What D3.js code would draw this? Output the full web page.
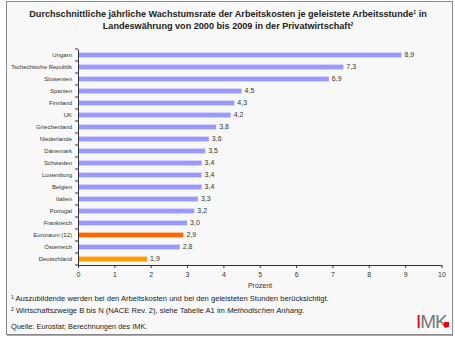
<!DOCTYPE html>
<html>
<head>
<meta charset="utf-8">
<script src="https://cdn.jsdelivr.net/npm/d3@7"></script>
<style>
  body { margin: 0; background: #fff; }
  text { font-family: "Liberation Sans", Arial, sans-serif; }
</style>
</head>
<body>
<div id="container"></div>
<script>
const countries = ["Ungarn", "Tschechische Republik", "Slowenien", "Spanien", "Finnland", "UK",
    "Griechenland", "Niederlande", "Dänemark", "Schweden", "Luxemburg", "Belgien", "Italien",
    "Portugal", "Frankreich", "Euroraum (12)", "Österreich", "Deutschland"];
const values = [8.9, 7.3, 6.9, 4.5, 4.3, 4.2, 3.8, 3.6, 3.5, 3.4, 3.4, 3.4, 3.3, 3.2, 3.0, 2.9, 2.8, 1.9];
const xTicks = [0, 1, 2, 3, 4, 5, 6, 7, 8, 9, 10];

const colorOf = (name) => {
    if (name === "Euroraum (12)") return "#ff6600";
    if (name === "Deutschland") return "#ff9900";
    return "#9999ff";
};

const svg = d3.select("#container")
    .append("svg")
    .attr("width", 455)
    .attr("height", 352);

// frame
svg.append("rect")
    .attr("x", 6.5).attr("y", 1.5)
    .attr("width", 446).attr("height", 333)
    .attr("fill", "#f8f8f8")
    .attr("stroke", "#888")
    .attr("stroke-width", 1);
svg.append("line")
    .attr("x1", 7).attr("x2", 453).attr("y1", 335.5).attr("y2", 335.5)
    .attr("stroke", "#aaa");

// title
const title = svg.append("text")
    .attr("text-anchor", "middle")
    .attr("font-size", "9.1px")
    .attr("font-weight", "bold")
    .attr("fill", "#222");
title.append("tspan").attr("x", 228).attr("y", 17)
    .text("Durchschnittliche jährliche Wachstumsrate der Arbeitskosten je geleistete Arbeitsstunde");
title.append("tspan").attr("font-size", "5px").attr("dy", -3).text("1");
title.append("tspan").attr("dy", 3).text(" in");
title.append("tspan").attr("x", 228).attr("y", 29)
    .text("Landeswährung von 2000 bis 2009 in der Privatwirtschaft");
title.append("tspan").attr("font-size", "5px").attr("dy", -3).text("2");

const xScale = d3.scaleLinear().domain([0, 10]).range([78, 441.5]);
const yScale = d3.scaleBand().domain(countries).range([49, 265]).paddingInner(0.6).paddingOuter(0.3);

// bars
svg.selectAll(".bar").data(countries)
    .enter()
    .append("rect")
    .attr("class", "bar")
    .attr("x", xScale(0))
    .attr("y", (d) => yScale(d))
    .attr("width", (d, i) => xScale(values[i]) - xScale(0))
    .attr("height", yScale.bandwidth())
    .attr("fill", (d) => colorOf(d));

// value labels
svg.selectAll(".val").data(countries)
    .enter()
    .append("text")
    .attr("class", "val")
    .attr("x", (d, i) => xScale(values[i]) + 3)
    .attr("y", (d) => yScale(d) + yScale.bandwidth() / 2)
    .attr("dy", "0.35em")
    .attr("font-size", "7px")
    .attr("fill", "#333")
    .text((d, i) => d3.format(".1f")(values[i]).replace(".", ","));

// y axis
const yAxis = d3.axisLeft(yScale).tickSize(0).tickPadding(6);
const yAxisGroup = svg.append("g")
    .attr("transform", "translate(" + xScale(0) + ",0)")
    .call(yAxis);
yAxisGroup.select(".domain").attr("stroke", "#333");
yAxisGroup.selectAll("text").attr("font-size", "6px").attr("fill", "#333")
    .style("font-family", "'Liberation Sans', Arial, sans-serif");
// band boundary ticks
const step = yScale.step();
yAxisGroup.selectAll(".bt").data(d3.range(countries.length + 1))
    .enter()
    .append("line")
    .attr("x1", -3).attr("x2", 0)
    .attr("y1", (i) => 49 + i * step)
    .attr("y2", (i) => 49 + i * step)
    .attr("stroke", "#333");

// x axis
const xAxis = d3.axisBottom(xScale).tickValues(xTicks).tickSize(3).tickPadding(4).tickSizeOuter(0);
const xAxisGroup = svg.append("g")
    .attr("transform", "translate(0,265)")
    .call(xAxis);
xAxisGroup.select(".domain").attr("stroke", "#333");
xAxisGroup.selectAll("line").attr("stroke", "#333");
xAxisGroup.selectAll("text").attr("font-size", "7px").attr("fill", "#333")
    .style("font-family", "'Liberation Sans', Arial, sans-serif");

svg.append("text")
    .attr("x", 260).attr("y", 288)
    .attr("text-anchor", "middle")
    .attr("font-size", "7px")
    .attr("fill", "#333")
    .text("Prozent");

// footnotes
const fn1 = svg.append("text").attr("x", 11).attr("y", 301).attr("font-size", "7.6px").attr("fill", "#222");
fn1.append("tspan").attr("font-size", "5px").attr("dy", -2).text("1");
fn1.append("tspan").attr("dy", 2).text(" Auszubildende werden bei den Arbeitskosten und bei den geleisteten Stunden berücksichtigt.");

const fn2 = svg.append("text").attr("x", 11).attr("y", 313).attr("font-size", "7.6px").attr("fill", "#222");
fn2.append("tspan").attr("font-size", "5px").attr("dy", -2).text("2");
fn2.append("tspan").attr("dy", 2).text(" Wirtschaftszweige B bis N (NACE Rev. 2), siehe Tabelle A1 im ");
fn2.append("tspan").attr("font-style", "italic").text("Methodischen Anhang");
fn2.append("tspan").text(".");

svg.append("text").attr("x", 11).attr("y", 329).attr("font-size", "7.4px").attr("fill", "#222")
    .text("Quelle: Eurostat; Berechnungen des IMK.");

// IMK logo
const logo = svg.append("text").attr("x", 416).attr("y", 328)
    .attr("font-size", "19px")
    .attr("letter-spacing", "-1px");
logo.append("tspan").attr("fill", "#e30613").text("I");
logo.append("tspan").attr("fill", "#777").text("MK");
svg.append("rect").attr("x", 444).attr("y", 322).attr("width", 5).attr("height", 5).attr("fill", "#e30613");
</script>
</body>
</html>
